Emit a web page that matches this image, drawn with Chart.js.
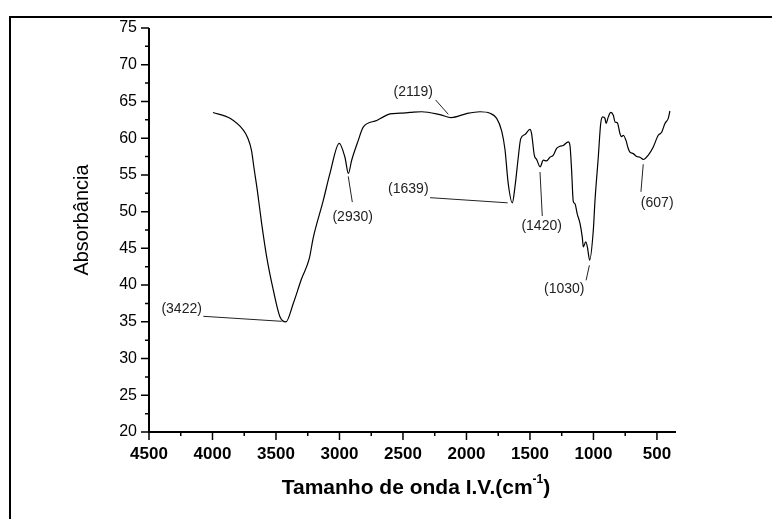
<!DOCTYPE html>
<html>
<head>
<meta charset="utf-8">
<script src="https://cdn.jsdelivr.net/npm/chart.js@4"></script>
<style>
body { margin: 0; background: #fff; }
#wrap { width: 772px; height: 519px; position: relative; }
</style>
</head>
<body>
<div id="wrap"><canvas id="irChart" width="772" height="519"></canvas></div>
<script>
// IR spectrum (wavenumber in cm-1, absorbance)
const wavenumber = [3996, 3862, 3757, 3724, 3693, 3672, 3647, 3613, 3573, 3521, 3469, 3422, 3364, 3300, 3238, 3206, 3128, 3075,
  3002, 2957, 2930, 2904, 2852, 2813, 2707, 2655, 2602, 2524, 2445, 2353, 2209, 2119, 1999, 1894, 1815, 1762, 1723,
  1697, 1671, 1639, 1618, 1592, 1573, 1539, 1500, 1487, 1466, 1447, 1420, 1395, 1369, 1343, 1316, 1290, 1264, 1238,
  1198, 1185, 1172, 1159, 1146, 1128, 1106, 1088, 1080, 1061, 1048, 1030, 1001, 988, 962, 943, 927, 909, 901, 883,
  864, 843, 830, 812, 791, 778, 765, 744, 726, 713, 687, 660, 634, 607, 568, 529, 490, 463, 437, 411, 398]
const absorbance = [63.5, 62.7, 61.1, 60.1, 58.35, 55.8, 52.9, 48.4, 43.8, 39.3, 35.7, 35.0, 37.5, 40.8, 43.6, 46.5, 51.5, 55.2,
  59.3, 57.4, 55.2, 57.0, 59.7, 61.5, 62.4, 62.9, 63.3, 63.4, 63.5, 63.6, 63.2, 62.8, 63.35, 63.6, 63.4, 62.7, 61.0,
  58.5, 53.8, 51.2, 53.4, 57.4, 59.9, 60.5, 61.2, 60.6, 57.7, 57.1, 56.1, 57.0, 56.9, 57.4, 57.7, 58.6, 58.9, 59.0,
  59.5, 59.0, 55.6, 51.4, 51.1, 49.7, 48.4, 46.5, 45.2, 45.9, 45.2, 43.4, 47.5, 51.5, 57.4, 62.0, 62.9, 62.7, 62.0, 62.9,
  63.5, 63.1, 62.2, 62.1, 60.6, 60.2, 60.4, 59.7, 58.6, 58.1, 57.9, 57.5, 57.4, 57.1, 57.7, 58.8, 60.4, 60.8, 62.0, 62.7, 63.7]

const xTicks = [4500, 4000, 3500, 3000, 2500, 2000, 1500, 1000, 500]
const yTicks = [20, 25, 30, 35, 40, 45, 50, 55, 60, 65, 70, 75]

// peak labels and their leader lines (data units)
const peakText = ['(3422)', '(2930)', '(2119)', '(1639)', '(1420)', '(1030)', '(607)']
const peakTextX = [4243, 2896, 2419, 2458, 1408, 1230, 498]
const peakTextY = [36.7, 49.3, 66.2, 53.0, 48.05, 39.4, 51.2]
const leadFromX = [4072, 2931, 2243, 2287, 1421, 1032, 608]
const leadFromY = [35.75, 54.8, 65.2, 51.9, 55.4, 42.7, 56.45]
const leadToX = [3455, 2899, 2143, 1676, 1403, 1058, 626]
const leadToY = [35.07, 51.3, 63.25, 51.2, 49.4, 40.65, 52.7]

const FONT = '"Liberation Sans", Arial, sans-serif'

// outer frame (only top and left edges are visible in the original)
const framePlugin = {
  id: 'frame',
  afterDraw(chart) {
    const c = chart.ctx
    c.save()
    c.strokeStyle = '#000'
    c.lineWidth = 2
    c.beginPath()
    c.moveTo(10, 519)
    c.lineTo(10, 17)
    c.lineTo(772, 17)
    c.stroke()
    c.restore()
  }
}

// axis lines with major/minor ticks pointing outward
const axesPlugin = {
  id: 'axes',
  afterDraw(chart) {
    const c = chart.ctx
    const xs = chart.scales.x, ys = chart.scales.y
    const a = chart.chartArea
    c.save()
    c.strokeStyle = '#000'
    c.lineWidth = 2
    c.beginPath()
    c.moveTo(a.left, a.top)
    c.lineTo(a.left, a.bottom)
    c.lineTo(a.right, a.bottom)
    c.stroke()
    c.lineWidth = 1.5
    c.beginPath()
    xTicks.forEach(v => {
      const px = xs.getPixelForValue(v)
      c.moveTo(px, a.bottom); c.lineTo(px, a.bottom + 8)
      const m = v - 250
      if (m > xs.min) {
        const pm = xs.getPixelForValue(m)
        c.moveTo(pm, a.bottom); c.lineTo(pm, a.bottom + 4)
      }
    })
    yTicks.forEach(v => {
      const py = ys.getPixelForValue(v)
      c.moveTo(a.left, py); c.lineTo(a.left - 8, py)
      if (v + 2.5 < ys.max) {
        const pm = ys.getPixelForValue(v + 2.5)
        c.moveTo(a.left, pm); c.lineTo(a.left - 4, pm)
      }
    })
    c.stroke()
    c.restore()
  }
}

// peak annotations
const peaksPlugin = {
  id: 'peaks',
  afterDatasetsDraw(chart) {
    const c = chart.ctx
    const xs = chart.scales.x, ys = chart.scales.y
    c.save()
    c.strokeStyle = '#222'
    c.lineWidth = 1
    c.beginPath()
    for (let k = 0; k < peakText.length; k++) {
      c.moveTo(xs.getPixelForValue(leadFromX[k]), ys.getPixelForValue(leadFromY[k]))
      c.lineTo(xs.getPixelForValue(leadToX[k]), ys.getPixelForValue(leadToY[k]))
    }
    c.stroke()
    c.fillStyle = '#222'
    c.font = '14px ' + FONT
    c.textAlign = 'center'
    c.textBaseline = 'middle'
    for (let k = 0; k < peakText.length; k++) {
      c.fillText(peakText[k], xs.getPixelForValue(peakTextX[k]), ys.getPixelForValue(peakTextY[k]))
    }
    c.restore()
  }
}

// axis titles (x title carries a superscript)
const titlesPlugin = {
  id: 'titles',
  afterDraw(chart) {
    const c = chart.ctx
    c.save()
    c.fillStyle = '#000'
    c.textBaseline = 'middle'
    c.textAlign = 'center'
    c.font = '20px ' + FONT
    c.translate(82, 220)
    c.rotate(-Math.PI / 2)
    c.fillText('Absorbância', 0, 0)
    c.setTransform(1, 0, 0, 1, 0, 0)

    const main = 'Tamanho de onda I.V.(cm'
    const sup = '-1'
    const close = ')'
    const big = 'bold 21px ' + FONT
    const small = 'bold 12px ' + FONT
    c.font = big
    const w1 = c.measureText(main).width
    const w3 = c.measureText(close).width
    c.font = small
    const w2 = c.measureText(sup).width
    let x = 416 - (w1 + w2 + w3) / 2
    const y = 494
    c.textAlign = 'left'
    c.textBaseline = 'alphabetic'
    c.font = big
    c.fillText(main, x, y)
    x += w1
    c.font = small
    c.fillText(sup, x, y - 11)
    x += w2
    c.font = big
    c.fillText(close, x, y)
    c.restore()
  }
}

new Chart(document.getElementById('irChart'), {
  type: 'line',
  data: {
    datasets: [{
      data: wavenumber.map((w, i) => ({ x: w, y: absorbance[i] })),
      borderColor: '#000',
      borderWidth: 1.2,
      pointRadius: 0,
      fill: false,
      cubicInterpolationMode: 'monotone'
    }]
  },
  options: {
    responsive: false,
    devicePixelRatio: 1,
    animation: false,
    layout: { padding: { top: 28, right: 96, left: 0, bottom: 0 } },
    plugins: { legend: { display: false }, tooltip: { enabled: false } },
    scales: {
      x: {
        type: 'linear',
        reverse: true,
        min: 350,
        max: 4500,
        afterBuildTicks: s => { s.ticks = xTicks.map(v => ({ value: v })) },
        afterFit: s => { s.height = 87 },
        grid: { display: false, drawTicks: true, tickLength: 8 },
        border: { display: false },
        ticks: {
          autoSkip: false,
          maxRotation: 0,
          padding: 4,
          color: '#000',
          callback: v => String(v),
          font: { family: FONT, size: 17, weight: 'bold' }
        }
      },
      y: {
        min: 20,
        max: 75,
        afterBuildTicks: s => { s.ticks = yTicks.map(v => ({ value: v })) },
        afterFit: s => { s.width = 149 },
        grid: { display: false, drawTicks: true, tickLength: 8 },
        border: { display: false },
        ticks: {
          padding: 4,
          color: '#000',
          callback: v => String(v),
          font: { family: FONT, size: 16 }
        }
      }
    }
  },
  plugins: [framePlugin, axesPlugin, peaksPlugin, titlesPlugin]
})
</script>
</body>
</html>
